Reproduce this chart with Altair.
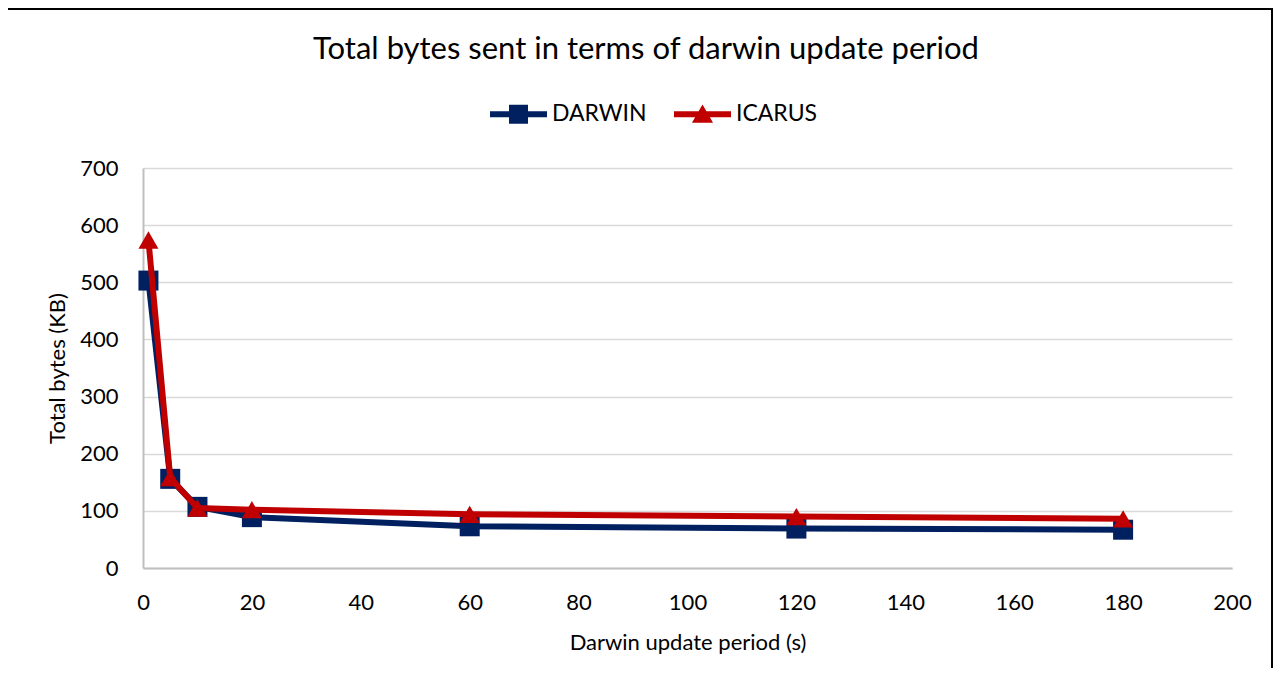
import altair as alt
import pandas as pd

# ---- data ----
period = [1, 5, 10, 20, 60, 120, 180]
darwin = [503, 156, 107, 89, 73, 69, 67]
icarus = [574, 158, 105, 102, 94, 90, 86]
series_names = ["DARWIN", "ICARUS"]
series_colors = ["#002060", "#C00000"]
marker_shapes = ["square", "triangle-up"]
x_ticks = [0, 20, 40, 60, 80, 100, 120, 140, 160, 180, 200]
y_ticks = [0, 100, 200, 300, 400, 500, 600, 700]

rows = []
for p, d, i in zip(period, darwin, icarus):
    rows.append({"period": p, "bytes": d, "series": "DARWIN"})
    rows.append({"period": p, "bytes": i, "series": "ICARUS"})
df = pd.DataFrame(rows)

W, H = 1089, 400
FONT = "Lato"

# legend symbols: a thick line with the marker on it
legend_paths = [
    "M-1,-0.105 L1,-0.105 L1,0.105 L-1,0.105 Z M-0.333,-0.333 L0.333,-0.333 L0.333,0.333 L-0.333,0.333 Z",
    "M-1,-0.105 L1,-0.105 L1,0.105 L-1,0.105 Z M0,-0.34 L0.37,0.3 L-0.37,0.3 Z",
]

x_enc = alt.X(
    "period:Q",
    scale=alt.Scale(domain=[0, 200], nice=False, zero=False),
    axis=alt.Axis(
        values=x_ticks, grid=False, ticks=False, tickSize=0,
        labelPadding=24, labelFont=FONT, labelFontSize=22, labelColor="black",
        labelFlush=False, labelOverlap=False,
        domainColor="#BFBFBF", domainWidth=2,
        title="Darwin update period (s)", titleFont=FONT, titleFontSize=22,
        titleFontWeight="normal", titleColor="black",
        titleX=W / 2, titleY=74, titleBaseline="middle", titleAlign="center",
    ),
)
y_enc = alt.Y(
    "bytes:Q",
    scale=alt.Scale(domain=[0, 700], nice=False, zero=True),
    axis=alt.Axis(
        values=y_ticks, grid=True, gridColor="#D9D9D9", gridWidth=1.5,
        ticks=False, tickSize=0,
        labelPadding=25, labelFont=FONT, labelFontSize=22, labelColor="black",
        labelFlush=False, labelOverlap=False,
        domainColor="#BFBFBF", domainWidth=2,
        title="Total bytes (KB)", titleFont=FONT, titleFontSize=22,
        titleFontWeight="normal", titleColor="black",
        titleX=-86, titleY=H / 2, titleBaseline="middle", titleAlign="center",
    ),
)

base = alt.Chart(df)
layers = []
for name, color, shape in zip(series_names, series_colors, marker_shapes):
    sub = base.transform_filter(alt.datum.series == name)
    layers.append(
        sub.mark_line(strokeWidth=6, color=color, strokeJoin="round", strokeCap="round")
        .encode(x=x_enc, y=y_enc)
    )
    layers.append(
        sub.mark_point(filled=True, size=400, shape=shape, color=color, opacity=1)
        .encode(x=x_enc, y=y_enc)
    )

leg = alt.Legend(
    orient="none", legendX=347, legendY=-82.5, direction="horizontal", title=None,
    labelFont=FONT, labelFontSize=23, labelColor="black",
    symbolSize=3249, symbolStrokeWidth=0, symbolOpacity=1,
    labelOffset=5, columnPadding=27, padding=0,
)
legend_layer = (
    base.transform_filter(alt.datum.period < 0)
    .mark_point(filled=True, size=3249, opacity=1)
    .encode(
        x=x_enc, y=y_enc,
        color=alt.Color("series:N", scale=alt.Scale(domain=series_names, range=series_colors), legend=leg),
        shape=alt.Shape("series:N", scale=alt.Scale(domain=series_names, range=legend_paths), legend=leg),
    )
)

frame = (
    alt.Chart(alt.Data(values=[{"k": 1}]))
    .mark_rect(fillOpacity=0, stroke="black", strokeWidth=2)
    .encode(x=alt.value(-136), x2=alt.value(1129), y=alt.value(-159), y2=alt.value(560))
)

chart = (
    alt.layer(frame, *layers, legend_layer)
    .properties(
        width=W, height=H,
        title=alt.TitleParams(
            "Total bytes sent in terms of darwin update period",
            font=FONT, fontSize=31, fontWeight="normal", color="black",
            anchor="middle", frame="group", dx=-41.5, offset=-57.5,
        ),
        padding={"left": 135, "top": 160, "right": 42, "bottom": 100},
        autosize=alt.AutoSizeParams(type="none"),
        background="white",
    )
    .configure_view(strokeWidth=0)
)

chart.save("out.html", embed_options={"renderer": "svg", "actions": False})
